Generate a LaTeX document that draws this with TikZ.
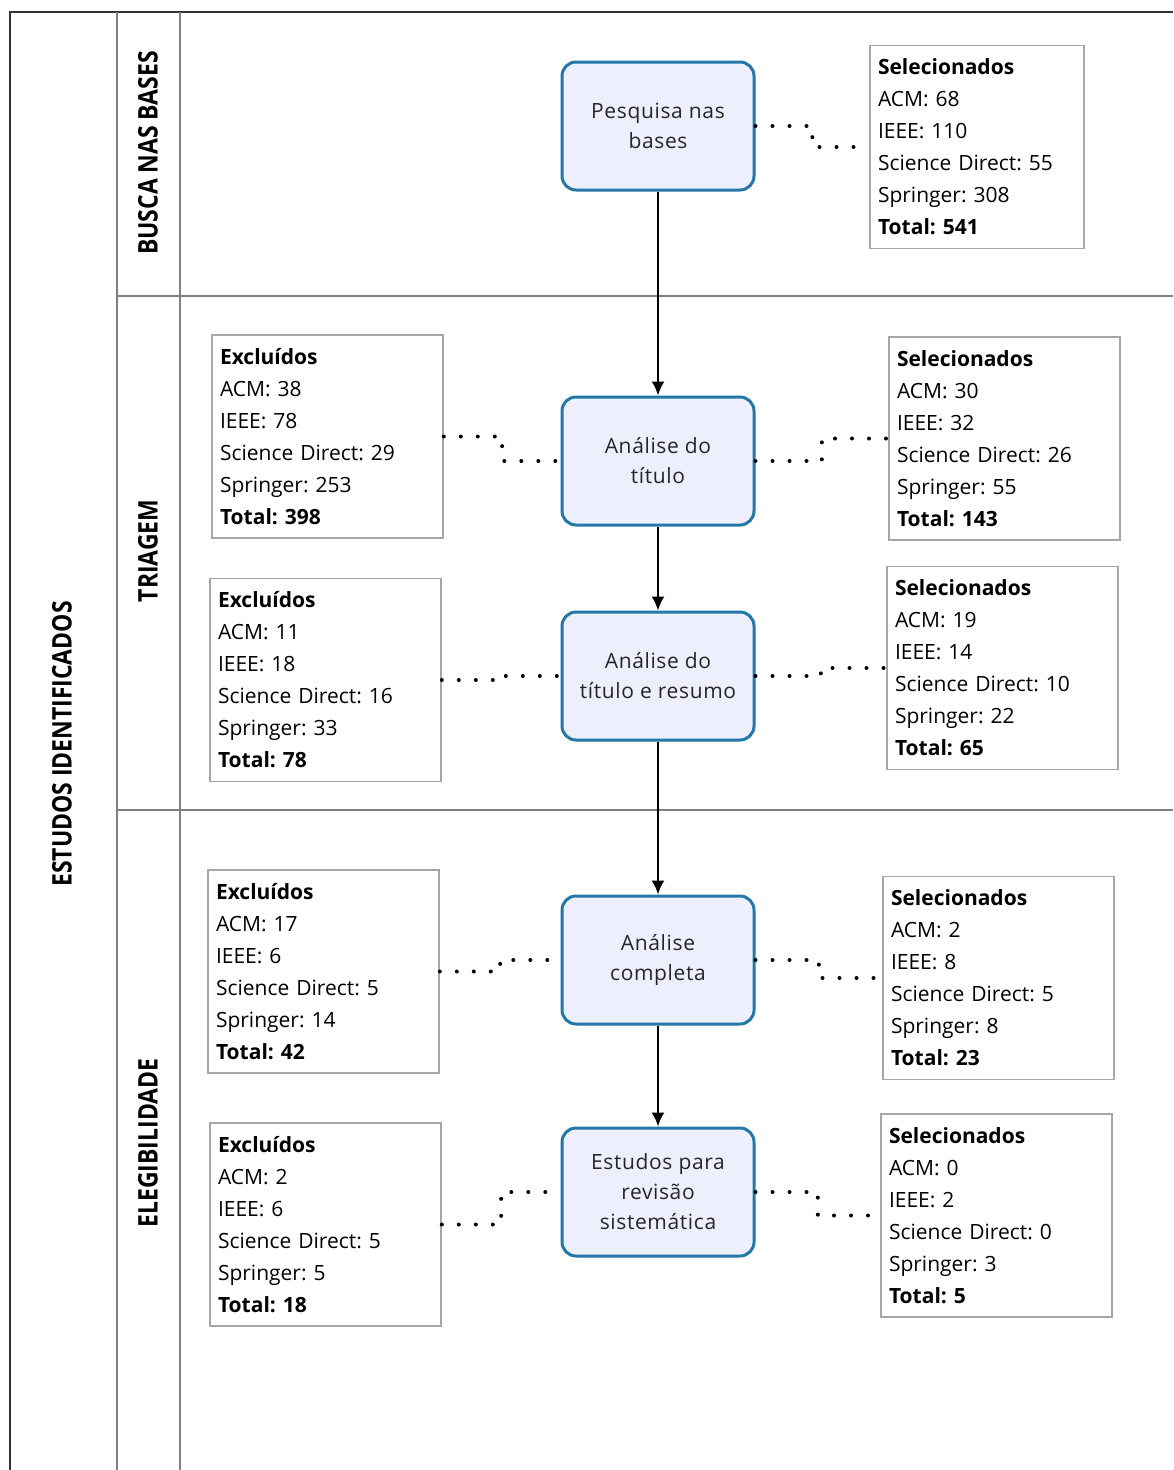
\documentclass[tikz,border=0pt]{standalone}
\usepackage{fontspec}
\setmainfont{Open Sans}
\newfontfamily\lanefont[FakeStretch=0.85]{Open Sans}
\newfontfamily\stepfont[LetterSpace=3]{Open Sans}
\usetikzlibrary{arrows.meta}
\usetikzlibrary{calc}
\tikzset{>={Latex[length=14pt,width=13pt]}}
\frenchspacing

\definecolor{laneline}{HTML}{808080}
\definecolor{stepfill}{HTML}{EDF0FC}
\definecolor{stepline}{HTML}{2378A8}
\definecolor{infoline}{HTML}{A6A6A6}

\tikzset{
  lane/.style={draw=laneline,line width=2pt},
  lanelabel/.style={rotate=90,font=\lanefont\bfseries\fontsize{27}{30}\selectfont},
  stepbox/.style={draw=stepline,fill=stepfill,line width=3pt,rounded corners=14pt,
    minimum width=192pt,minimum height=128pt,align=center,
    font=\stepfont\fontsize{21}{30}\selectfont,text=black!85},
  infobox/.style={draw=infoline,line width=1.6pt,align=left,text width=215pt,
    inner sep=8pt,minimum height=203pt,font=\fontsize{21}{32}\selectfont},
  dotlink/.style={line width=4pt,line cap=round,dash pattern=on 0pt off 17pt},
  elbow/.style={to path={-| ($(\tikztostart)!.5!(\tikztotarget)$) |- (\tikztotarget)}},
  flow/.style={->,line width=2pt}
}

\newcommand{\contagem}[6]{\textbf{#1}\\ACM: #2\\IEEE: #3\\Science Direct: #4\\Springer: #5\\\textbf{Total: #6}}

\begin{document}
\begin{tikzpicture}[x=1pt,y=-1pt]
\useasboundingbox (0,0) rectangle (1173,1470);

% raias
\draw[line width=2pt,black!80] (1173,12) -- (10,12) -- (10,1470);
\draw[lane] (117,12) -- (117,1470);
\draw[lane] (180,12) -- (180,1470);
\draw[lane] (117,296) -- (1173,296);
\draw[lane] (117,810) -- (1173,810);

\node[lanelabel] (estudos) at (62,744) {ESTUDOS IDENTIFICADOS};
\node[lanelabel] (busca) at (148,153) {BUSCA NAS BASES};
\node[lanelabel] (triagem) at (148,551) {TRIAGEM};
\node[lanelabel] (elegib) at (148,1143) {ELEGIBILIDADE};

% etapas
\node[stepbox] (pesquisa) at (658,126) {Pesquisa nas\\bases};
\node[stepbox] (titulo) at (658,461) {Análise do\\título};
\node[stepbox] (resumo) at (658,676) {Análise do\\título e resumo};
\node[stepbox] (completa) at (658,960) {Análise\\completa};
\node[stepbox] (revisao) at (658,1192) {Estudos para\\revisão\\sistemática};

% contagens
\node[infobox,text width=198pt] (sel1) at (977,147) {\contagem{Selecionados}{68}{110}{55}{308}{541}};
\node[infobox] (exc2) at (327.5,436.5) {\contagem{Excluídos}{38}{78}{29}{253}{398}};
\node[infobox] (sel2) at (1004.5,438.5) {\contagem{Selecionados}{30}{32}{26}{55}{143}};
\node[infobox] (exc3) at (325.5,680) {\contagem{Excluídos}{11}{18}{16}{33}{78}};
\node[infobox] (sel3) at (1002.5,668) {\contagem{Selecionados}{19}{14}{10}{22}{65}};
\node[infobox] (exc4) at (323.5,971.5) {\contagem{Excluídos}{17}{6}{5}{14}{42}};
\node[infobox] (sel4) at (998.5,978) {\contagem{Selecionados}{2}{8}{5}{8}{23}};
\node[infobox] (exc5) at (325.5,1224.5) {\contagem{Excluídos}{2}{6}{5}{5}{18}};
\node[infobox] (sel5) at (996.5,1215.5) {\contagem{Selecionados}{0}{2}{0}{3}{5}};

% fluxo
\draw[flow] (pesquisa) -- (titulo);
\draw[flow] (titulo) -- (resumo);
\draw[flow] (resumo) -- (completa);
\draw[flow] (completa) -- (revisao);

% ligacoes pontilhadas
\draw[dotlink] (pesquisa.east) to[elbow] (sel1.west);
\draw[dotlink] (exc2.east) to[elbow] (titulo.west);
\draw[dotlink] (titulo.east) to[elbow] (sel2.west);
\draw[dotlink] (exc3.east) to[elbow] (resumo.west);
\draw[dotlink] (resumo.east) to[elbow] (sel3.west);
\draw[dotlink] (exc4.east) to[elbow] (completa.west);
\draw[dotlink] (completa.east) to[elbow] (sel4.west);
\draw[dotlink] (exc5.east) to[elbow] (revisao.west);
\draw[dotlink] (revisao.east) to[elbow] (sel5.west);

\end{tikzpicture}
\end{document}
